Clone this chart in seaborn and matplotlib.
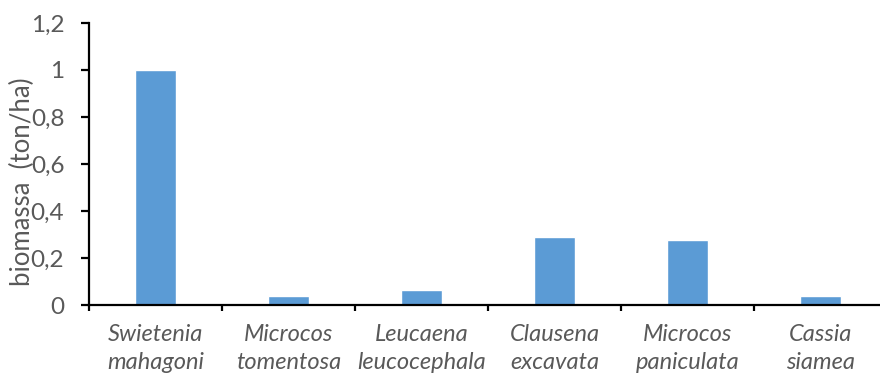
import matplotlib
matplotlib.use("Agg")
import matplotlib.pyplot as plt
import seaborn as sns
import pandas as pd
from matplotlib.ticker import FixedLocator, FuncFormatter

species = ["Swietenia\nmahagoni", "Microcos\ntomentosa", "Leucaena\nleucocephala",
           "Clausena\nexcavata", "Microcos\npaniculata", "Cassia\nsiamea"]
biomass = [1.0, 0.038, 0.063, 0.29, 0.276, 0.037]
y_ticks = [0, 0.2, 0.4, 0.6, 0.8, 1.0, 1.2]

sns.set_theme(style="white")
plt.rcParams["font.family"] = ["Lato", "DejaVu Sans"]

df = pd.DataFrame({"species": species, "biomass": biomass})

fig = plt.figure(figsize=(8.8, 3.76), dpi=100)
ax = fig.add_axes([89 / 880, 71 / 376, 798 / 880, 282 / 376])

sns.barplot(data=df, x="species", y="biomass", color="#5B9BD5", width=0.315,
            saturation=1, ax=ax)

ax.set_xlim(-0.5, len(species) - 0.5)
ax.set_ylim(0, 1.2)
ax.yaxis.set_major_locator(FixedLocator(y_ticks))
ax.yaxis.set_major_formatter(FuncFormatter(lambda v, _: f"{v:g}".replace(".", ",")))

for side in ("top", "right"):
    ax.spines[side].set_visible(False)
for side in ("left", "bottom"):
    ax.spines[side].set_color("black")
    ax.spines[side].set_linewidth(1.6)

ax.tick_params(axis="y", which="major", direction="out", length=5.8, width=1.6,
               color="black", pad=12, labelsize=17.5, labelcolor="#595959", left=True)
ax.set_xticks(range(len(species)))
ax.set_xticklabels(species, fontstyle="italic", fontsize=17, color="#595959",
                   linespacing=1.4)
ax.set_xticks([i - 0.5 for i in range(len(species) + 1)], minor=True)
ax.tick_params(axis="x", which="major", length=0, pad=14)
ax.tick_params(axis="x", which="minor", direction="out", length=4, width=1.6,
               color="black", bottom=True)

ax.set_xlabel("")
ax.set_ylabel("")
fig.text(22 / 880, 1 - 182 / 376, "biomassa  (ton/ha)", rotation=90, ha="center",
         va="center", fontsize=18.5, color="#595959")

fig.savefig("out.png", dpi=100)
